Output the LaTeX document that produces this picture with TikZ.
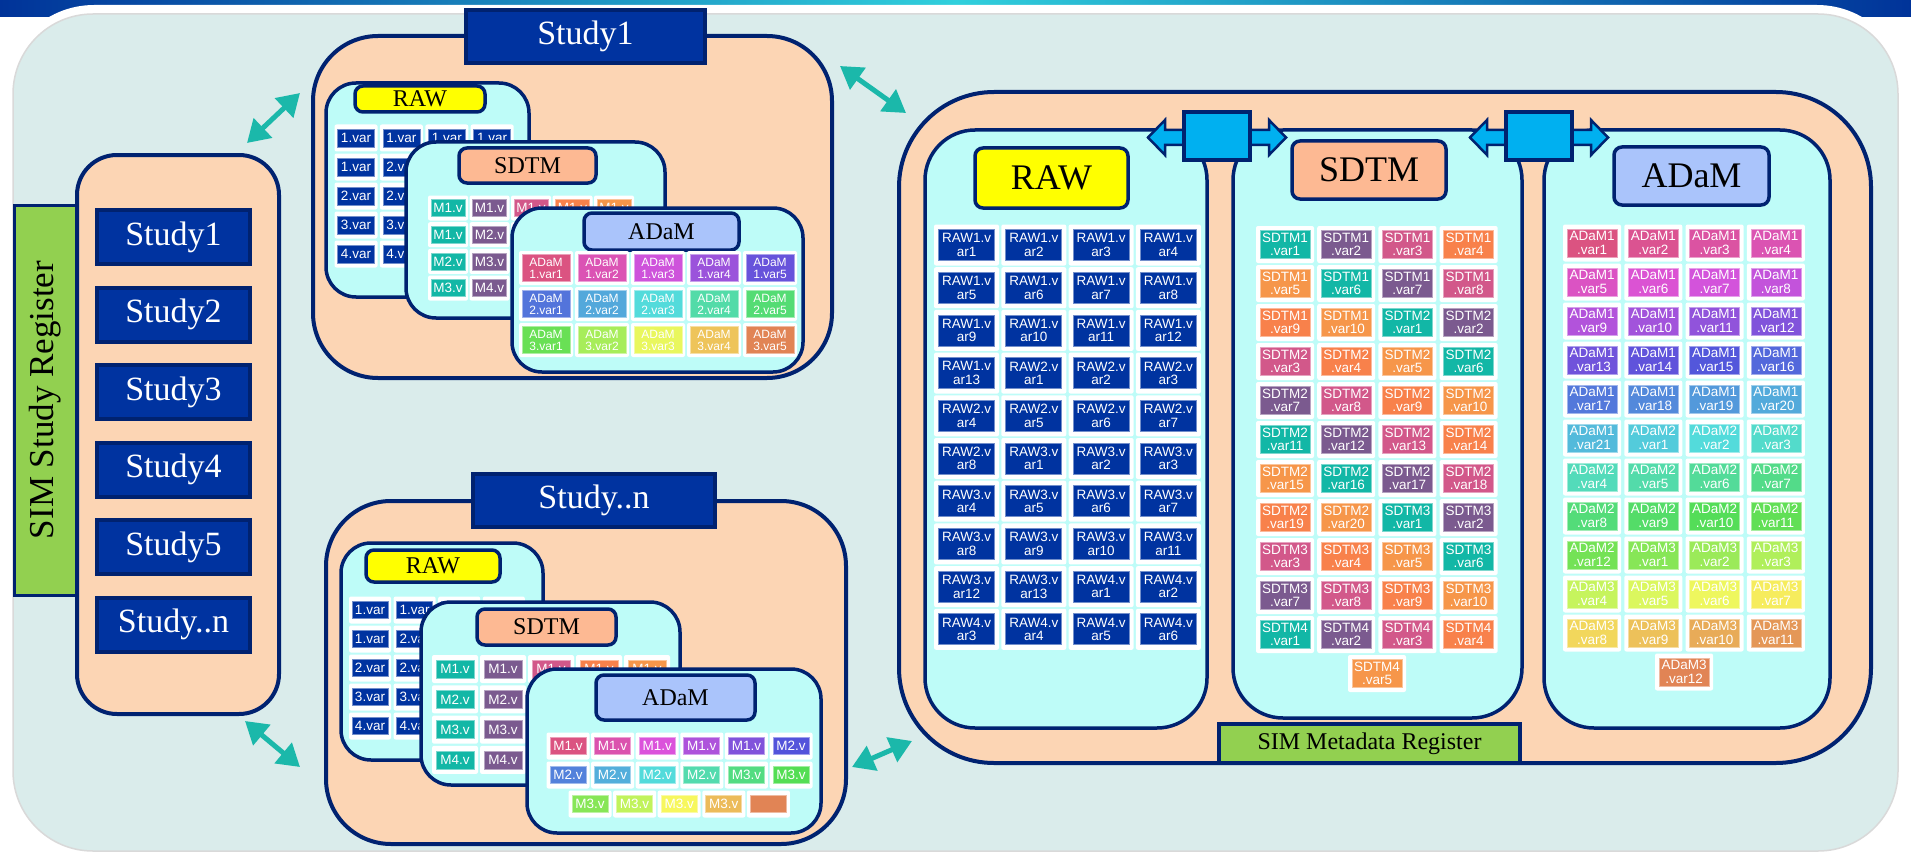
\documentclass[tikz,border=0pt]{standalone}
\usepackage{fontspec}
\setmainfont{Liberation Serif}
\newfontfamily\tilefont{Liberation Sans}
\usetikzlibrary{arrows.meta}

\definecolor{edgeblue}{RGB}{0,34,112}
\definecolor{btnblue}{RGB}{0,51,160}
\definecolor{peach}{RGB}{252,213,180}
\definecolor{panelcyan}{RGB}{190,252,248}
\definecolor{bgteal}{RGB}{218,236,235}
\definecolor{rawyellow}{RGB}{255,255,0}
\definecolor{sdtmsalmon}{RGB}{253,185,147}
\definecolor{adamblue}{RGB}{170,196,251}
\definecolor{regreen}{RGB}{146,208,80}
\definecolor{arrowteal}{RGB}{27,184,170}
\definecolor{linkcyan}{RGB}{0,176,240}
\definecolor{stripblue}{RGB}{0,51,153}
\definecolor{stripcyan}{RGB}{48,208,220}
\definecolor{sdtm0}{RGB}{18,183,166}
\definecolor{sdtm1}{RGB}{123,90,143}
\definecolor{sdtm2}{RGB}{210,88,138}
\definecolor{sdtm3}{RGB}{248,129,75}
\definecolor{sdtm4}{RGB}{246,150,74}

\newcount\tilecnt
\newcommand\fz[1]{\fontsize{#1}{#1}\selectfont}
\newcommand\boxnode[7][]{%
  \node[#1, inner sep=0pt, minimum width={#5-#3}, minimum height={#6-#4}] (#2) at ({(#3+#5)/2},{(#4+#6)/2}) {#7};}
\newcommand\vtile[6]{%
  \node[cell, #1 cell] (#2c) at ({#3},{#4}) {};
  \node[vartile, #1 tile, fill=#5, draw=#5!55!white] (#2) at ({#3},{#4}) {#6};}
\newcommand\hued[1]{%
  \pgfmathsetmacro\bri{0.86+0.11*exp(-((#1-65)/35)^2)}%
  \definecolor{adamh}{Hsb}{#1,0.62,\bri}\colorlet{adamc}[rgb]{adamh}}
\newcommand\linkbox[2]{%
  \draw[fill=linkcyan, draw=edgeblue, line width=2.5pt, line join=miter] ({#2-69},137.5) -- ({#2-52},120) -- ({#2-52},130) -- ({#2+52},130) -- ({#2+52},120) -- ({#2+69},137.5) -- ({#2+52},155) -- ({#2+52},145) -- ({#2-52},145) -- ({#2-52},155) -- cycle;
  \node[draw=edgeblue, line width=4pt, fill=linkcyan, minimum width=66, minimum height=48] (#1) at (#2,136) {};}

\tikzset{
  bigbox/.style={draw=edgeblue, line width=4pt, fill=peach},
  panel/.style={draw=edgeblue, line width=3.5pt, fill=panelcyan},
  tagbox/.style={draw=edgeblue, line width=3.5pt, rounded corners=8pt},
  titlebox/.style={draw=edgeblue, line width=4pt, fill=btnblue, text=white, font=\fz{34}},
  cell/.style={fill=white, rounded corners=2pt, inner sep=0pt},
  vartile/.style={inner sep=0pt, line width=0.8pt, text=white, align=center, font=\tilefont\fontsize{13.5}{13.5}\selectfont},
  bigraw cell/.style={minimum width=65, minimum height=41},
  bigraw tile/.style={minimum width=56, minimum height=31},
  bigvar cell/.style={minimum width=58, minimum height=37},
  bigvar tile/.style={minimum width=50, minimum height=28},
  araw cell/.style={minimum width=43, minimum height=27},
  araw tile/.style={minimum width=37, minimum height=18},
  asdtm cell/.style={minimum width=40, minimum height=25},
  asdtm tile/.style={minimum width=34, minimum height=17},
  aadam cell/.style={minimum width=54, minimum height=34},
  aadam tile/.style={minimum width=48, minimum height=27, font=\tilefont\fontsize{12}{12}\selectfont},
  nraw cell/.style={minimum width=42, minimum height=27},
  nraw tile/.style={minimum width=36, minimum height=17},
  nsdtm cell/.style={minimum width=46, minimum height=28},
  nsdtm tile/.style={minimum width=38, minimum height=18},
  nadam cell/.style={minimum width=43, minimum height=27},
  nadam tile/.style={minimum width=36, minimum height=17},
  teallink/.style={arrowteal, line width=5pt, {Triangle[length=22pt,width=26pt]}-{Triangle[length=22pt,width=26pt]}},
}

\begin{document}
\begin{tikzpicture}[x=1pt, y=-1pt]
  \useasboundingbox (0,0) rectangle (1911,856);
  \fill[white] (0,0) rectangle (1911,856);
  \shade[left color=stripblue, right color=stripblue, middle color=stripcyan] (0,0) rectangle (1911,17);
  \fill[white, rounded corners=90pt] (4,5) rectangle (1907,856);
  \draw[fill=bgteal, draw=black!15, line width=1.5pt, rounded corners=80pt] (13,14) rectangle (1898,851);

  % study register
  \node[draw=edgeblue, line width=3pt, fill=regreen, rotate=90, minimum width=390, minimum height=63, inner sep=0pt, font=\fz{35}] (studyreg) at (45.5,400) {SIM Study Register};
  \boxnode[bigbox, rounded corners=40pt]{regbox}{77}{155}{279}{714}{}
  \foreach \s [count=\k from 0] in {{Study1},{Study2},{Study3},{Study4},{Study5},{Study..n}} {
    \node[titlebox, inner sep=0pt, minimum width=153, minimum height=54] (reg\k) at (173.5,{237+77.5*\k}) {\s};
  }

  % study 1
  \boxnode[bigbox, rounded corners=65pt]{studyA}{313}{36}{832}{378}{}
  \boxnode[titlebox]{studyAtitle}{466}{10}{705}{63}{Study1}
  \boxnode[panel, rounded corners=30pt]{aRaw}{326}{83}{529}{297}{}
  \boxnode[tagbox, fill=rawyellow, font=\fz{24}]{aRawTag}{355}{86}{485}{112}{RAW}
  \foreach \r/\a/\b in {0/1/1,1/1/2,2/2/2,3/3/3,4/4/4} {
    \foreach \c in {0,...,3} {
      \pgfmathtruncatemacro\t{\c==0 ? \a : \b}
      \pgfmathtruncatemacro\hide{(\r>0)&&(\c>1)}
      \vtile{araw}{aRaw\r\c}{356+45.4*\c}{138+29*\r}{btnblue}{\ifnum\hide=0 \t.var\fi}
    }
  }
  \boxnode[panel, rounded corners=30pt]{aSdtm}{406}{142}{665}{318}{}
  \boxnode[tagbox, fill=sdtmsalmon, font=\fz{24}]{aSdtmTag}{459}{148}{596}{183}{SDTM}
  \foreach \r/\a/\b in {0/1/1,1/1/2,2/2/3,3/3/4} {
    \foreach \c in {0,...,4} {
      \pgfmathtruncatemacro\t{\c==0 ? \a : \b}
      \pgfmathtruncatemacro\hide{(\r>0)&&(\c>1)}
      \vtile{asdtm}{aSdtm\r\c}{448+41.5*\c}{208+26.7*\r}{sdtm\c}{\ifnum\hide=0 M\t.v\fi}
    }
  }
  \boxnode[panel, rounded corners=30pt]{aAdam}{512}{208}{803}{372}{}
  \boxnode[tagbox, fill=adamblue, font=\fz{24}]{aAdamTag}{584}{213}{739}{250}{ADaM}
  \foreach \r in {1,2,3} {
    \foreach \c in {1,...,5} {
      \pgfmathsetmacro\hue{340-((\r-1)*5+\c-1)*320/14}
      \hued{\hue}
      \vtile{aadam}{aAdam\r\c}{546+56*(\c-1)}{268+36*(\r-1)}{adamc}{ADaM\\\r.var\c}
    }
  }

  % study n
  \boxnode[bigbox, rounded corners=65pt]{studyN}{326}{501}{846}{844}{}
  \boxnode[titlebox]{studyNtitle}{473}{474}{715}{527}{Study..n}
  \boxnode[panel, rounded corners=30pt]{nRaw}{341}{543}{543}{760}{}
  \boxnode[tagbox, fill=rawyellow, font=\fz{24}]{nRawTag}{366}{550}{500}{582}{RAW}
  \foreach \r/\a/\b in {0/1/1,1/1/2,2/2/2,3/3/3,4/4/4} {
    \foreach \c in {0,...,3} {
      \pgfmathtruncatemacro\t{\c==0 ? \a : \b}
      \vtile{nraw}{nRaw\r\c}{370+44.6*\c}{610+29*\r}{btnblue}{\ifnum\c<2 \t.var\fi}
    }
  }
  \boxnode[panel, rounded corners=30pt]{nSdtm}{421}{602}{680}{785}{}
  \boxnode[tagbox, fill=sdtmsalmon, font=\fz{24}]{nSdtmTag}{477}{609}{616}{645}{SDTM}
  \foreach \r in {0,...,3} {
    \foreach \c in {0,...,4} {
      \pgfmathtruncatemacro\t{\r+1}
      \pgfmathtruncatemacro\hide{(\r>0)&&(\c>1)}
      \vtile{nsdtm}{nSdtm\r\c}{455+48*\c}{669+30.3*\r}{sdtm\c}{\ifnum\hide=0 M\t.v\fi}
    }
  }
  \boxnode[panel, rounded corners=30pt]{nAdam}{527}{669}{821}{833}{}
  \boxnode[tagbox, fill=adamblue, font=\fz{24}]{nAdamTag}{596}{675}{755}{720}{ADaM}
  \foreach \t [count=\k from 0] in {M1.v,M1.v,M1.v,M1.v,M1.v,M2.v,M2.v,M2.v,M2.v,M2.v,M3.v,M3.v,M3.v,M3.v,M3.v,M3.v,{}} {
    \pgfmathsetmacro\hue{340-\k*320/16}
    \hued{\hue}
    \pgfmathsetmacro\tx{\k<12 ? 568+44.6*mod(\k,6) : 590+44.6*(\k-12)}
    \pgfmathsetmacro\ty{\k<12 ? 746+29*div(\k,6) : 804}
    \vtile{nadam}{nAdam\k}{\tx}{\ty}{adamc}{\t}
  }

  % metadata register
  \boxnode[bigbox, rounded corners=95pt]{metabox}{899}{92}{1871}{763}{}
  \boxnode[panel, rounded corners=50pt]{rawcol}{925}{130}{1207}{728}{}
  \boxnode[panel, rounded corners=50pt]{sdtmcol}{1233}{130}{1522}{718}{}
  \boxnode[panel, rounded corners=50pt]{adamcol}{1544}{130}{1830}{728}{}
  \boxnode[tagbox, fill=rawyellow, font=\fz{36}]{rawtag}{975}{148}{1128}{208}{RAW}
  \boxnode[tagbox, fill=sdtmsalmon, font=\fz{36}]{sdtmtag}{1292}{141}{1446}{199}{SDTM}
  \boxnode[tagbox, fill=adamblue, font=\fz{36}]{adamtag}{1614}{147}{1769}{205}{ADaM}
  \linkbox{linkA}{1217}
  \linkbox{linkB}{1539}

  \global\tilecnt=0
  \foreach \d/\n in {1/13,2/8,3/13,4/6} {
    \foreach \v in {1,...,\n} {
      \pgfmathtruncatemacro\c{mod(\the\tilecnt,4)}
      \pgfmathtruncatemacro\r{div(\the\tilecnt,4)}
      \vtile{bigraw}{raw\d-\v}{966.5+67.3*\c}{245+42.7*\r}{btnblue}{RAW\d.v\\ar\v}
      \global\advance\tilecnt by 1
    }
  }
  \global\tilecnt=0
  \foreach \d/\n in {1/10,2/20,3/10,4/5} {
    \foreach \v in {1,...,\n} {
      \pgfmathtruncatemacro\c{mod(\the\tilecnt,4)}
      \pgfmathtruncatemacro\r{div(\the\tilecnt,4)}
      \pgfmathtruncatemacro\k{mod(\the\tilecnt,5)}
      \pgfmathsetmacro\tx{\the\tilecnt==44 ? 1377 : 1285+61.2*\c}
      \vtile{bigvar}{sdtm\d-\v}{\tx}{244.5+39*\r}{sdtm\k}{SDTM\d\\.var\v}
      \global\advance\tilecnt by 1
    }
  }
  \global\tilecnt=0
  \foreach \d/\n in {1/21,2/12,3/12} {
    \foreach \v in {1,...,\n} {
      \pgfmathtruncatemacro\c{mod(\the\tilecnt,4)}
      \pgfmathtruncatemacro\r{div(\the\tilecnt,4)}
      \pgfmathsetmacro\hue{340-\the\tilecnt*320/44}
      \hued{\hue}
      \pgfmathsetmacro\tx{\the\tilecnt==44 ? 1684 : 1592+61.3*\c}
      \vtile{bigvar}{adam\d-\v}{\tx}{243+39*\r}{adamc}{ADaM\d\\.var\v}
      \global\advance\tilecnt by 1
    }
  }
  \boxnode[draw=edgeblue, line width=4pt, fill=regreen, font=\fz{24}]{metareg}{1219}{724}{1520}{763}{SIM Metadata Register}

  % links
  \coordinate (regtop) at (247,143);
  \coordinate (studyAwest) at (300,93);
  \coordinate (studyAeast) at (840,66);
  \coordinate (metatop) at (906,113);
  \coordinate (regbottom) at (245,721);
  \coordinate (studyNwest) at (300,767);
  \coordinate (studyNeast) at (852,767);
  \coordinate (metabottom) at (912,741);
  \draw[teallink] (regtop) -- (studyAwest);
  \draw[teallink] (studyAeast) -- (metatop);
  \draw[teallink] (regbottom) -- (studyNwest);
  \draw[teallink] (studyNeast) -- (metabottom);
\end{tikzpicture}
\end{document}
